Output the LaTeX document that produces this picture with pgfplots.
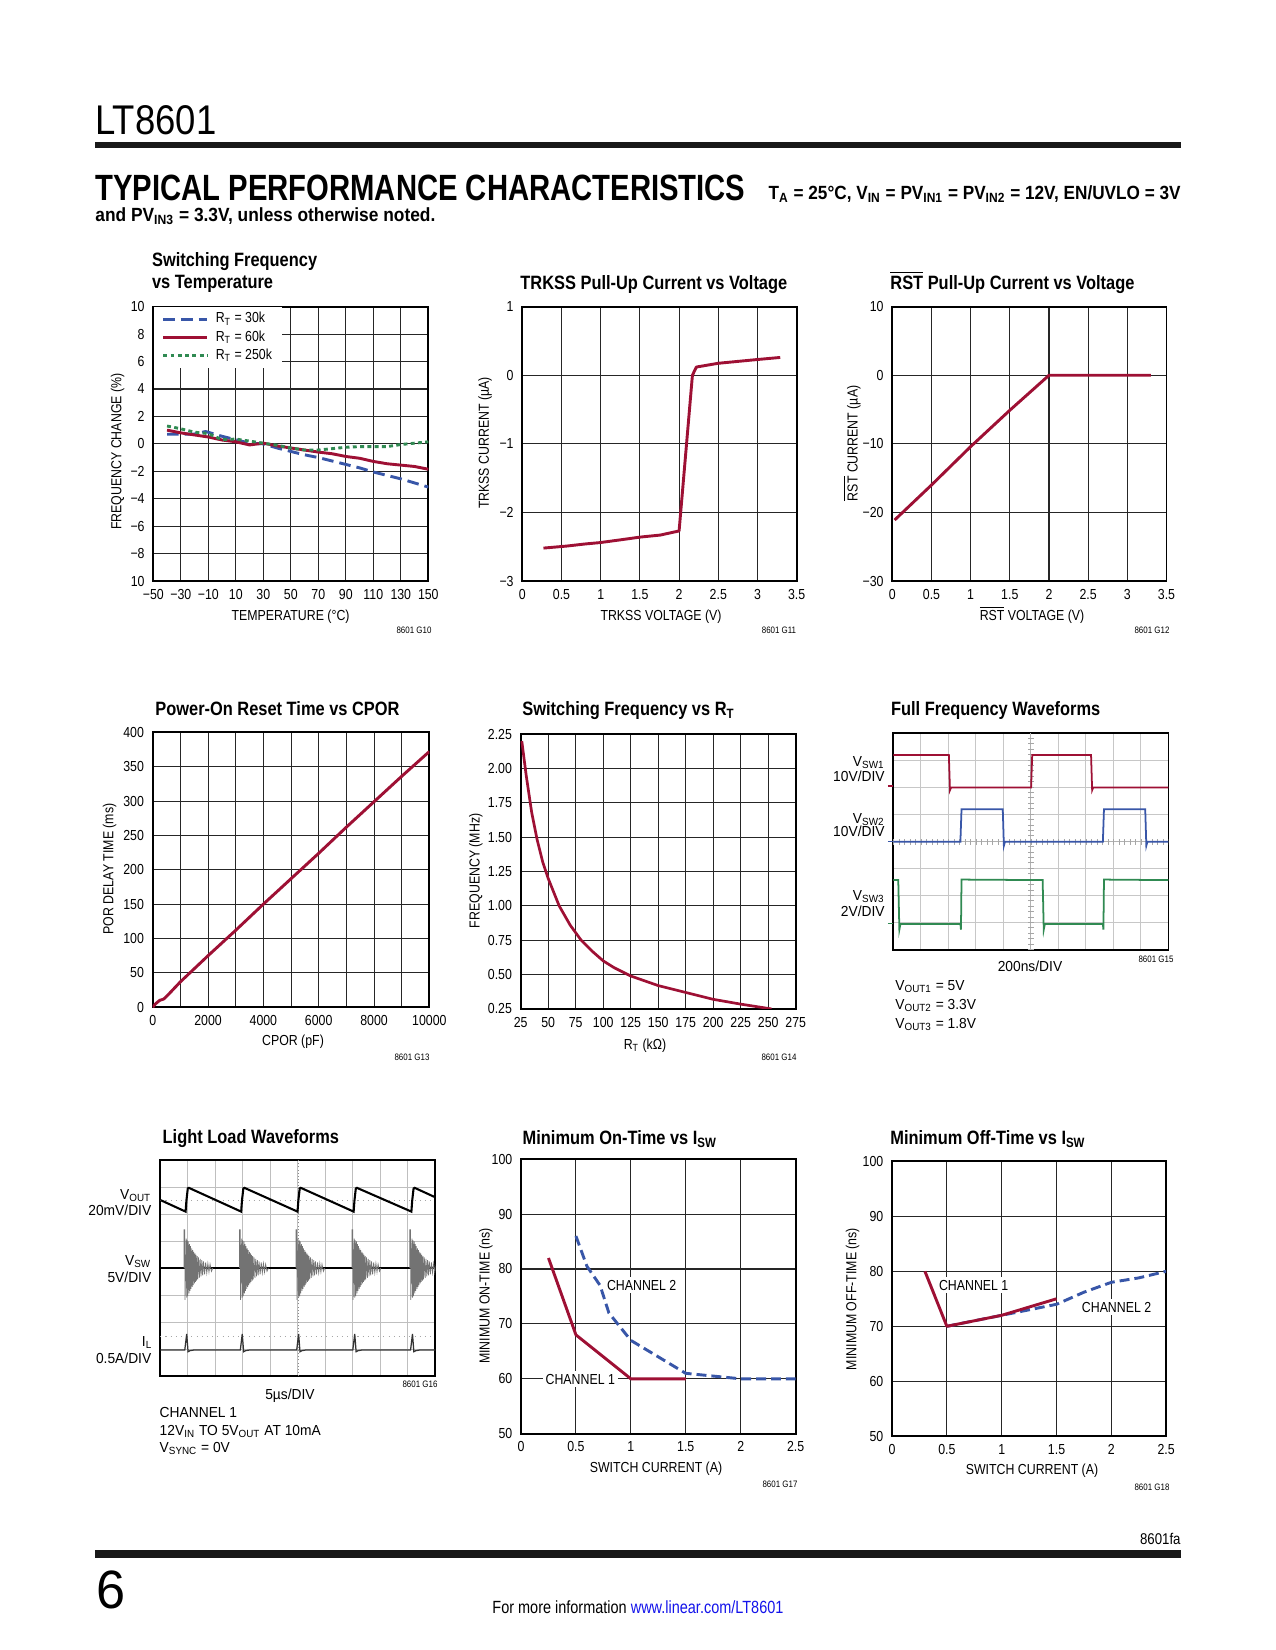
\documentclass[border=0pt]{standalone}
\usepackage{fontspec}
\setmainfont{Liberation Sans}[FakeStretch=0.85]
\newfontfamily\notefam{Liberation Sans}[FakeStretch=0.95]
\usepackage{graphicx}
\usepackage{pgfplots}
\pgfplotsset{compat=1.18}
\usepackage{pgfplotstable}

\definecolor{ltred}{RGB}{158,16,52}
\definecolor{ltblue}{RGB}{56,86,168}
\definecolor{ltgreen}{RGB}{48,138,82}
\definecolor{linkblue}{RGB}{20,20,235}

\newcommand{\tk}{\fontsize{7}{8}\selectfont}
\newcommand{\ttl}{\fontsize{9.3}{11}\selectfont\bfseries}
\newcommand{\nt}{\notefam\fontsize{7}{8}\selectfont}
\newcommand{\gl}{\fontsize{4.5}{5}\selectfont}

\pgfplotsset{
 ds/.style={scale only axis, anchor=south west,
   axis line style={line width=0.9pt},
   grid=major, grid style={line width=0.5pt, black!85},
   major tick length=0pt,
   tick label style={font=\tk, inner sep=0pt},
   xticklabel style={anchor=base, yshift=-8.7pt},
   yticklabel style={anchor=east, xshift=-4pt},
   every axis plot/.append style={line width=1.4pt, line join=round}},
 scopeax/.style={scale only axis, anchor=south west, xmin=0,xmax=10,ymin=0,ymax=8,
   xtick={0,...,10}, ytick={0,...,8}, xticklabels={}, yticklabels={},
   grid=major, major tick length=0pt, clip mode=individual},
}

% ringing burst of the switch node (relative time in divisions, level in divisions)
\pgfplotstableread{
t v
-0.05 4.00
-0.05 5.42
-0.02 5.42
-0.01 2.82
0.03 5.09
0.05 2.90
0.07 5.02
0.09 2.96
0.11 4.99
0.13 3.06
0.15 4.89
0.17 3.15
0.19 4.81
0.21 3.23
0.23 4.73
0.25 3.30
0.27 4.66
0.29 3.37
0.31 4.60
0.33 3.43
0.35 4.54
0.37 3.49
0.39 4.49
0.41 3.53
0.43 4.44
0.45 3.58
0.48 4.39
0.51 3.64
0.54 4.34
0.57 3.69
0.60 4.29
0.63 3.73
0.66 4.25
0.70 3.77
0.74 4.21
0.78 3.82
0.82 4.17
0.86 3.85
0.90 4.14
0.95 3.88
1.00 4.00
}\burst

\begin{document}
\begin{tikzpicture}
\begin{scope}[x=0.4818pt,y=-0.4818pt]
\fill[white] (0,0) rectangle (1275,1650);
\path[use as bounding box] (0,0) rectangle (1275,1650);
% header
\node[anchor=base west,inner sep=0] at (95,135) {\resizebox{58.3pt}{\height}{\fontsize{20}{24}\selectfont LT8601}};
\fill[black!90] (95,142) rectangle (1181,148.5);
\node[anchor=base west,inner sep=0] at (95,201) {\resizebox{313.2pt}{\height}{\fontsize{17.6}{20}\selectfont\bfseries TYPICAL PERFORMANCE CHARACTERISTICS}};
\node[anchor=base east,inner sep=0] at (1181,200) {\resizebox{198.5pt}{\height}{\fontsize{9.2}{11}\selectfont\bfseries T\textsubscript{A} = 25°C, V\textsubscript{IN} = PV\textsubscript{IN1} = PV\textsubscript{IN2} = 12V, EN/UVLO = 3V}};
\node[anchor=base west,inner sep=0] at (95,222) {\resizebox{163.8pt}{\height}{\fontsize{9.2}{11}\selectfont\bfseries and PV\textsubscript{IN3} = 3.3V, unless otherwise noted.}};
% footer
\node[anchor=base east,inner sep=0] at (1181,1544) {\fontsize{7.5}{9}\selectfont 8601fa};
\fill[black!90] (95,1550) rectangle (1181,1557.5);
\node[anchor=base west,inner sep=0] at (96,1608) {\resizebox{14pt}{\height}{\fontsize{26}{30}\selectfont 6}};
\node[anchor=base west,inner sep=0] at (492,1613) {\resizebox{140.2pt}{\height}{\fontsize{8.5}{10}\selectfont For more information \textcolor{linkblue}{www.linear.com/LT8601}}};
\end{scope}

% ---------- Chart 1: switching frequency vs temperature
\begin{axis}[ds, at={(73.86pt,-279.93pt)}, width=132.5pt, height=132.16pt,
  xmin=-50,xmax=150,ymin=-10,ymax=10,
  xtick={-50,-30,...,150}, xticklabels={−50,−30,−10,10,30,50,70,90,110,130,150},
  ytick={-10,-8,...,10}, yticklabels={10,−8,−6,−4,−2,0,2,4,6,8,10},
  legend style={at={(0,1)}, anchor=north west, draw=none, fill=white,
    inner xsep=3.9pt, inner ysep=1.4pt, row sep=0pt, font=\tk,
    nodes={inner sep=0.8pt, text height=5.4pt, text depth=1.8pt},
    /tikz/every odd column/.append style={column sep=2.6pt}},
  legend cell align=left,
  legend image code/.code={\draw[#1] (0pt,0pt) -- (21.2pt,0pt);}]
\addplot[ltblue, dash pattern=on 5.6pt off 2.9pt] coordinates {(-40,0.7) (-30,0.7) (-20,0.72) (-12,0.9) (-5,0.7) (0,0.55) (10,0.3) (20,0.05) (30,0.0) (40,-0.3) (50,-0.55) (60,-0.8) (70,-1.0) (80,-1.25) (90,-1.5) (100,-1.75) (110,-2.05) (120,-2.3) (130,-2.55) (140,-2.85) (150,-3.15)};
\addlegendentry{R\textsubscript{T} = 30k}
\addplot[ltred] coordinates {(-40,1.0) (-30,0.8) (-20,0.65) (-10,0.5) (0,0.28) (10,0.15) (20,-0.08) (30,0.05) (40,-0.15) (50,-0.3) (60,-0.45) (70,-0.6) (80,-0.72) (90,-0.92) (100,-1.05) (110,-1.28) (120,-1.45) (130,-1.55) (140,-1.65) (150,-1.85)};
\addlegendentry{R\textsubscript{T} = 60k}
\addplot[ltgreen, dash pattern=on 1.9pt off 1.6pt] coordinates {(-40,1.3) (-30,1.1) (-20,0.85) (-10,0.75) (0,0.3) (10,0.35) (20,0.2) (30,0.05) (40,-0.1) (50,-0.3) (60,-0.45) (70,-0.45) (80,-0.35) (90,-0.25) (100,-0.2) (110,-0.2) (120,-0.2) (130,-0.05) (140,0.05) (150,0.15)};
\addlegendentry{R\textsubscript{T} = 250k}
\end{axis}

% ---------- Chart 2: TRKSS
\begin{axis}[ds, at={(251.64pt,-279.93pt)}, width=132.2pt, height=132.16pt,
  xmin=0,xmax=3.5,ymin=-3,ymax=1,
  xtick={0,0.5,...,3.5}, xticklabels={0,0.5,1,1.5,2,2.5,3,3.5},
  ytick={-3,-2,...,1}, yticklabels={−3,−2,−1,0,1}]
\addplot[ltred] coordinates {(0.27,-2.52) (0.57,-2.49) (0.8,-2.46) (0.99,-2.44) (1.25,-2.40) (1.5,-2.36) (1.76,-2.33) (1.88,-2.30) (2.0,-2.27) (2.17,0) (2.22,0.12) (2.5,0.175) (3.0,0.23) (3.29,0.26)};
\end{axis}

% ---------- Chart 3: RST
\begin{axis}[ds, at={(429.91pt,-279.93pt)}, width=132.1pt, height=132.16pt,
  xmin=0,xmax=3.5,ymin=-30,ymax=10,
  xtick={0,0.5,...,3.5}, xticklabels={0,0.5,1,1.5,2,2.5,3,3.5},
  ytick={-30,-20,...,10}, yticklabels={−30,−20,−10,0,10}]
\addplot[ltred] coordinates {(0.03,-21.1) (0.5,-16.0) (1.0,-10.4) (1.5,-5.1) (2.0,0) (3.3,0)};
\end{axis}

% ---------- Chart 4: POR
\begin{axis}[ds, at={(73.57pt,-485.3pt)}, width=133.3pt, height=132.5pt,
  xmin=0,xmax=10000,ymin=0,ymax=400,
  xtick={0,1000,...,10000}, xticklabels={0,,2000,,4000,,6000,,8000,,10000},
  ytick={0,50,...,400}, yticklabels={0,50,100,150,200,250,300,350,400},
  scaled x ticks=false]
\addplot[ltred] coordinates {(0,0) (100,5) (250,10) (400,12) (600,20) (1000,37) (2000,75) (3000,112) (4000,150) (5000,187) (6000,224) (7000,262) (8000,299) (9000,336) (10000,372)};
\end{axis}

% ---------- Chart 5: frequency vs RT
\begin{axis}[ds, at={(250.87pt,-486.1pt)}, width=132.5pt, height=132.35pt,
  xmin=25,xmax=275,ymin=0.25,ymax=2.25,
  xtick={25,50,...,275}, xticklabels={25,50,75,100,125,150,175,200,225,250,275},
  ytick={0.25,0.5,...,2.25}, yticklabels={0.25,0.50,0.75,1.00,1.25,1.50,1.75,2.00,2.25}]
\addplot[ltred, line width=1.3pt] coordinates {(26,2.2) (30,1.95) (35,1.68) (40,1.48) (45,1.32) (50,1.2) (60,1.0) (70,0.86) (80,0.75) (90,0.67) (100,0.6) (110,0.55) (125,0.49) (150,0.42) (175,0.37) (200,0.32) (225,0.285) (253,0.25)};
\end{axis}

% ---------- Chart 6: full frequency waveforms
\begin{axis}[scopeax, at={(430.39pt,-457.7pt)}, width=132.5pt, height=104.4pt,
  grid style={line width=0.5pt, black!22}, axis line style={line width=0.8pt}]
\draw[black!30, line width=0.4pt] (axis cs:5,0) -- (axis cs:5,8);
\draw[black!35, line width=3pt, dash pattern=on 0.4pt off 2.21pt] (axis cs:5,0) -- (axis cs:5,8);
\draw[black!30, line width=0.4pt] (axis cs:0,4) -- (axis cs:10,4);
\draw[black!35, line width=3pt, dash pattern=on 0.4pt off 2.25pt] (axis cs:0,4) -- (axis cs:10,4);
\draw[ltred, line width=0.8pt] (axis cs:-0.2,6.05) -- (axis cs:0,6.05);
\draw[ltblue, line width=0.8pt] (axis cs:-0.2,4.0) -- (axis cs:0,4.0);
\draw[ltgreen, line width=0.8pt] (axis cs:-0.2,0.98) -- (axis cs:0,0.98);
\addplot[ltred, line width=0.85pt] coordinates {(0,7.2) (2.02,7.2) (2.06,5.9) (2.1,6.0) (5.01,6.0) (5.05,7.2) (7.19,7.2) (7.23,5.9) (7.27,6.0) (10,6.0)};
\addplot[ltblue, line width=0.85pt] coordinates {(0,4.0) (2.44,4.0) (2.48,5.2) (3.98,5.2) (4.02,3.85) (4.06,4.0) (7.62,4.0) (7.66,5.2) (9.16,5.2) (9.2,3.85) (9.24,4.0) (10,4.0)};
\addplot[ltgreen, line width=0.85pt] coordinates {(0,2.58) (0.18,2.58) (0.22,0.75) (0.26,0.96) (2.44,0.96) (2.46,0.75) (2.48,2.6) (5.43,2.58) (5.47,0.75) (5.51,0.96) (7.62,0.96) (7.64,0.75) (7.66,2.6) (10,2.58)};
\end{axis}

% ---------- Chart 7: light load waveforms
\begin{axis}[scopeax, at={(77.23pt,-662.96pt)}, width=132.5pt, height=104.07pt,
  grid style={line width=0.5pt, black!25}, axis line style={line width=1.1pt}]
\draw[black!45, line width=0.5pt, densely dotted] (axis cs:5.02,0) -- (axis cs:5.02,8);
\draw[black!35, line width=0.5pt, dotted] (axis cs:0,6.49) -- (axis cs:10,6.49);
\draw[black!35, line width=0.5pt, dotted] (axis cs:0,1.48) -- (axis cs:10,1.48);
\addplot[black, line width=0.6pt] coordinates {(0,4.0) (10,4.0)};
\addplot[black!55, line width=0.35pt] table[x expr=\thisrow{t}+0.91, y=v] {\burst};
\addplot[black!55, line width=0.35pt] table[x expr=\thisrow{t}+2.93, y=v] {\burst};
\addplot[black!55, line width=0.35pt] table[x expr=\thisrow{t}+4.98, y=v] {\burst};
\addplot[black!55, line width=0.35pt] table[x expr=\thisrow{t}+7.02, y=v] {\burst};
\addplot[black!55, line width=0.35pt] table[x expr=\thisrow{t}+9.12, y=v] {\burst};
\addplot[black, line width=1.0pt] coordinates {(0,6.52) (0.92,6.09) (0.95,6.5) (1.0,6.95) (1.04,6.97) (2.94,6.09) (2.97,6.5) (3.02,6.95) (3.06,6.97) (4.99,6.09) (5.02,6.5) (5.07,6.95) (5.11,6.97) (7.03,6.09) (7.06,6.5) (7.11,6.95) (7.15,6.97) (9.13,6.09) (9.16,6.5) (9.21,6.95) (9.25,6.97) (10,6.62)};
\addplot[black!80, line width=0.6pt] coordinates {(0,0.96) (0.89,0.96) (0.96,1.56) (1.01,0.9) (1.08,0.94) (1.2,0.96) (2.91,0.96) (2.98,1.56) (3.03,0.9) (3.1,0.94) (3.22,0.96) (4.96,0.96) (5.03,1.56) (5.08,0.9) (5.15,0.94) (5.27,0.96) (7.0,0.96) (7.07,1.56) (7.12,0.9) (7.19,0.94) (7.31,0.96) (9.1,0.96) (9.17,1.56) (9.22,0.9) (9.29,0.94) (9.41,0.96) (10,0.96)};
\end{axis}

% ---------- Chart 8: minimum on-time
\begin{axis}[ds, at={(251.02pt,-690.76pt)}, width=132.3pt, height=132.3pt,
  xmin=0,xmax=2.5,ymin=50,ymax=100,
  xtick={0,0.5,...,2.5}, xticklabels={0,0.5,1,1.5,2,2.5},
  ytick={50,60,...,100}, yticklabels={50,60,70,80,90,100}]
\addplot[ltred] coordinates {(0.25,82) (0.5,68) (1.0,60) (1.5,60)};
\addplot[ltblue, dash pattern=on 4.8pt off 2.4pt] coordinates {(0.5,86) (0.6,80.5) (0.72,77) (0.8,72) (1.0,67) (1.25,64) (1.5,61) (1.75,60.5) (2.0,60) (2.5,60)};
\end{axis}

% ---------- Chart 9: minimum off-time
\begin{axis}[ds, at={(429.77pt,-692.0pt)}, width=132.1pt, height=132.5pt,
  xmin=0,xmax=2.5,ymin=50,ymax=100,
  xtick={0,0.5,...,2.5}, xticklabels={0,0.5,1,1.5,2,2.5},
  ytick={50,60,...,100}, yticklabels={50,60,70,80,90,100}]
\addplot[ltblue, dash pattern=on 4.8pt off 2.4pt] coordinates {(0.5,70) (1.0,72) (1.5,74) (1.75,76.2) (2.0,78) (2.25,78.8) (2.5,80)};
\addplot[ltred] coordinates {(0.3,80) (0.5,70) (1.0,72) (1.5,75)};
\end{axis}

\begin{scope}[x=0.4818pt,y=-0.4818pt]
% titles
\node[anchor=base west,inner sep=0] at (151.7,266.7) {\ttl Switching Frequency};
\node[anchor=base west,inner sep=0] at (151.7,288.3) {\ttl vs Temperature};
\node[anchor=base west,inner sep=0] at (520,289.3) {\ttl TRKSS Pull-Up Current vs Voltage};
\node[anchor=base west,inner sep=0] at (890,289.3) {\ttl $\overline{\mbox{RST}}$ Pull-Up Current vs Voltage};
\node[anchor=base west,inner sep=0] at (155,715.8) {\ttl Power-On Reset Time vs CPOR};
\node[anchor=base west,inner sep=0] at (522,715.8) {\ttl Switching Frequency vs R\textsubscript{T}};
\node[anchor=base west,inner sep=0] at (890.7,715.8) {\ttl Full Frequency Waveforms};
\node[anchor=base west,inner sep=0] at (162.3,1143.5) {\ttl Light Load Waveforms};
\node[anchor=base west,inner sep=0] at (522.3,1144) {\ttl Minimum On-Time vs I\textsubscript{SW}};
\node[anchor=base west,inner sep=0] at (890,1144) {\ttl Minimum Off-Time vs I\textsubscript{SW}};
% x labels
\node[anchor=base,inner sep=0] at (290.6,620) {\tk TEMPERATURE (°C)};
\node[anchor=base,inner sep=0] at (661,620) {\tk TRKSS VOLTAGE (V)};
\node[anchor=base,inner sep=0] at (1032,620) {\tk $\overline{\mbox{RST}}$ VOLTAGE (V)};
\node[anchor=base,inner sep=0] at (293,1045.6) {\tk CPOR (pF)};
\node[anchor=base,inner sep=0] at (645,1049) {\tk R\textsubscript{T} (kΩ)};
\node[anchor=base,inner sep=0] at (656,1472) {\tk SWITCH CURRENT (A)};
\node[anchor=base,inner sep=0] at (1032,1474) {\tk SWITCH CURRENT (A)};
% y labels
\node[rotate=90,inner sep=0] at (117.7,451.7) {\tk FREQUENCY CHANGE (\%)};
\node[rotate=90,inner sep=0] at (485,443) {\tk TRKSS CURRENT (µA)};
\node[rotate=90,inner sep=0] at (852,443.3) {\tk $\overline{\mbox{RST}}$ CURRENT (µA)};
\node[rotate=90,inner sep=0] at (109.5,869) {\tk POR DELAY TIME (ms)};
\node[rotate=90,inner sep=0] at (475.8,870.8) {\tk FREQUENCY (MHz)};
\node[rotate=90,inner sep=0] at (485.8,1295.8) {\tk MINIMUM ON-TIME (ns)};
\node[rotate=90,inner sep=0] at (852.5,1299) {\tk MINIMUM OFF-TIME (ns)};
% graph codes
\node[anchor=base,inner sep=0] at (414,633) {\gl 8601 G10};
\node[anchor=base,inner sep=0] at (779,633) {\gl 8601 G11};
\node[anchor=base,inner sep=0] at (1152,633) {\gl 8601 G12};
\node[anchor=base,inner sep=0] at (412,1060) {\gl 8601 G13};
\node[anchor=base,inner sep=0] at (779,1060) {\gl 8601 G14};
\node[anchor=base,inner sep=0] at (1156,962) {\gl 8601 G15};
\node[anchor=base,inner sep=0] at (420,1387) {\gl 8601 G16};
\node[anchor=base,inner sep=0] at (780,1487) {\gl 8601 G17};
\node[anchor=base,inner sep=0] at (1152,1490) {\gl 8601 G18};
% scope 6 labels
\node[anchor=base east,inner sep=0] at (885,766.7) {\nt V\textsubscript{SW1}};
\node[anchor=base east,inner sep=0] at (885,781.7) {\nt 10V/DIV};
\node[anchor=base east,inner sep=0] at (885,823) {\nt V\textsubscript{SW2}};
\node[anchor=base east,inner sep=0] at (885,836.7) {\nt 10V/DIV};
\node[anchor=base east,inner sep=0] at (885,900) {\nt V\textsubscript{SW3}};
\node[anchor=base east,inner sep=0] at (885,916.7) {\nt 2V/DIV};
\node[anchor=base,inner sep=0] at (1030,971.7) {\nt 200ns/DIV};
\node[anchor=base west,inner sep=0] at (895,990) {\nt V\textsubscript{OUT1} = 5V};
\node[anchor=base west,inner sep=0] at (895,1009) {\nt V\textsubscript{OUT2} = 3.3V};
\node[anchor=base west,inner sep=0] at (895,1028) {\nt V\textsubscript{OUT3} = 1.8V};
% scope 7 labels
\node[anchor=base east,inner sep=0] at (151.7,1199.3) {\nt V\textsubscript{OUT}};
\node[anchor=base east,inner sep=0] at (151.7,1215) {\nt 20mV/DIV};
\node[anchor=base east,inner sep=0] at (151.7,1265) {\nt V\textsubscript{SW}};
\node[anchor=base east,inner sep=0] at (151.7,1282.7) {\nt 5V/DIV};
\node[anchor=base east,inner sep=0] at (152.7,1346.7) {\nt I\textsubscript{L}};
\node[anchor=base east,inner sep=0] at (151.7,1363.3) {\nt 0.5A/DIV};
\node[anchor=base,inner sep=0] at (290,1399) {\nt 5µs/DIV};
\node[anchor=base west,inner sep=0] at (159.3,1417.3) {\nt CHANNEL 1};
\node[anchor=base west,inner sep=0] at (159.3,1435) {\nt 12V\textsubscript{IN} TO 5V\textsubscript{OUT} AT 10mA};
\node[anchor=base west,inner sep=0] at (159.3,1452.7) {\nt V\textsubscript{SYNC} = 0V};
% curve annotations
\node[anchor=base,fill=white,inner sep=1.2pt] at (641.7,1290) {\tk CHANNEL 2};
\node[anchor=base,fill=white,inner sep=1.5pt] at (580.3,1384) {\tk CHANNEL 1};
\node[anchor=base,fill=white,inner sep=1.2pt] at (973.7,1290) {\tk CHANNEL 1};
\node[anchor=base west,fill=white,inner sep=1.2pt] at (1079,1312) {\tk CHANNEL 2};
\end{scope}
\end{tikzpicture}
\end{document}
